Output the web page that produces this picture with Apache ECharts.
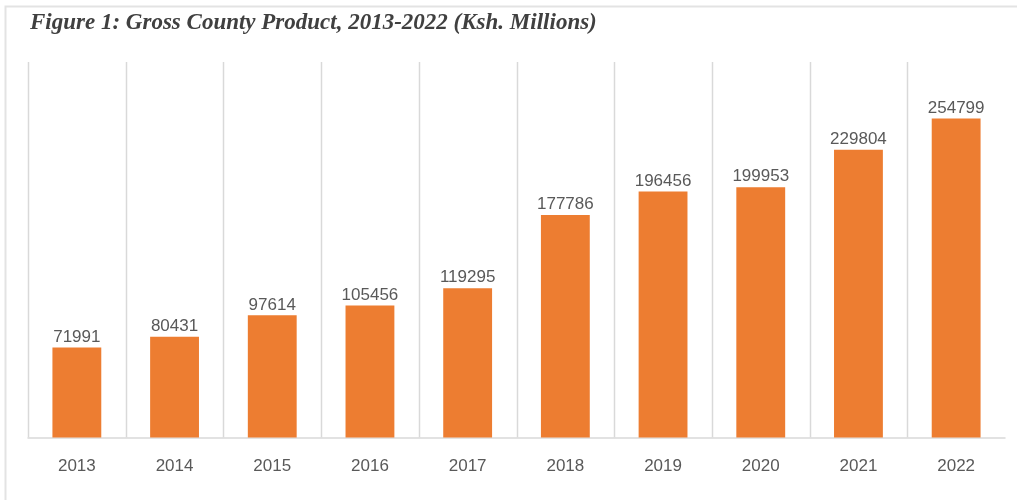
<!DOCTYPE html>
<html>
<head>
<meta charset="utf-8">
<script src="https://cdn.jsdelivr.net/npm/echarts@6/dist/echarts.min.js"></script>
<style>
  html, body { margin: 0; padding: 0; background: #ffffff; }
  #chart { width: 1017px; height: 500px; }
</style>
</head>
<body>
<div id="chart"></div>
<script>
// Gross County Product by year, Ksh. millions
var years = ['2013', '2014', '2015', '2016', '2017', '2018', '2019', '2020', '2021', '2022'];
var gcpValues = [71991, 80431, 97614, 105456, 119295, 177786, 196456, 199953, 229804, 254799];
var titleText = 'Figure 1: Gross County Product, 2013-2022 (Ksh. Millions)';
var yMax = 300000;

var chart = echarts.init(document.getElementById('chart'), null, { renderer: 'canvas' });

var labelFont = '"Liberation Sans", Arial, sans-serif';

// thin separator on the left side of each year's band
function renderSeparator(params, api) {
  var idx = api.value(0);
  var half = api.size([1, 0])[0] / 2;
  var top = api.coord([idx, yMax]);
  var bottom = api.coord([idx, 0]);
  var x = Math.round(top[0] - half) + 0.5;
  return {
    type: 'line',
    shape: { x1: x, y1: top[1], x2: x, y2: bottom[1] },
    style: { stroke: '#d9d9d9', lineWidth: 1.5 },
    silent: true
  };
}

chart.setOption({
  animation: false,
  backgroundColor: '#ffffff',
  title: {
    text: titleText,
    left: 25,
    top: 7,
    textStyle: {
      fontFamily: '"Liberation Serif", "Times New Roman", serif',
      fontStyle: 'italic',
      fontWeight: 'bold',
      fontSize: 23,
      color: '#404040'
    }
  },
  graphic: [{
    type: 'rect',
    shape: { x: 5.5, y: 6.5, width: 1100, height: 600 },
    style: { fill: 'none', stroke: '#e3e3e3', lineWidth: 2 },
    silent: true
  }],
  grid: { left: 28, right: 12, top: 62, bottom: 62.5 },
  xAxis: {
    type: 'category',
    data: years,
    axisLine: { show: true, lineStyle: { color: '#d9d9d9', width: 1.5 } },
    axisTick: { show: false },
    axisLabel: {
      margin: 20,
      fontFamily: labelFont,
      fontSize: 17,
      color: '#595959'
    },
    splitLine: { show: false }
  },
  yAxis: {
    type: 'value',
    min: 0,
    max: yMax,
    show: false
  },
  series: [{
    type: 'custom',
    data: years.map(function (y, i) { return [i]; }),
    renderItem: renderSeparator,
    z: 1,
    silent: true
  }, {
    type: 'bar',
    data: gcpValues,
    barWidth: '50%',
    z: 2,
    itemStyle: { color: '#ED7D31' },
    label: {
      show: true,
      position: 'top',
      distance: 2,
      fontFamily: labelFont,
      fontSize: 17,
      color: '#595959'
    }
  }]
});
</script>
</body>
</html>
